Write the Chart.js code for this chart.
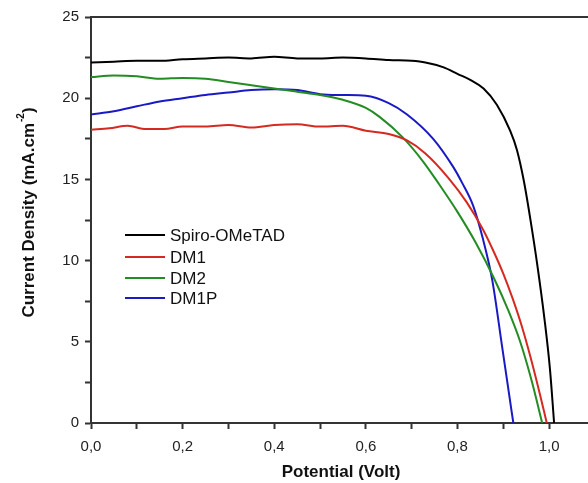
<!DOCTYPE html>
<html>
<head>
<meta charset="utf-8">
<script src="https://cdn.jsdelivr.net/npm/chart.js@4.4.1/dist/chart.umd.min.js"></script>
<style>
  html, body { margin: 0; padding: 0; background: #fff; }
  #wrap { width: 588px; height: 483px; position: relative; }
</style>
</head>
<body>
<div id="wrap"><canvas id="jv"></canvas></div>
<script>
// J-V curves (potential in Volt, current density in mA.cm-2)
const spiroV = [0, 0.05, 0.1, 0.15, 0.2, 0.25, 0.3, 0.35, 0.4, 0.45, 0.5, 0.55, 0.6, 0.65, 0.7, 0.73, 0.77, 0.8, 0.83, 0.857, 0.886, 0.915, 0.93, 0.945, 0.96, 0.975, 0.99, 1.002, 1.011];
const spiroJ = [22.2, 22.25, 22.3, 22.3, 22.4, 22.45, 22.5, 22.45, 22.55, 22.45, 22.45, 22.5, 22.45, 22.35, 22.3, 22.2, 21.9, 21.5, 21.1, 20.6, 19.6, 18.0, 16.8, 14.9, 12.4, 9.6, 6.4, 3.3, 0];

const dm1V = [0, 0.04, 0.08, 0.12, 0.16, 0.2, 0.25, 0.3, 0.35, 0.4, 0.45, 0.5, 0.55, 0.6, 0.65, 0.69, 0.73, 0.78, 0.82, 0.856, 0.88, 0.9, 0.92, 0.94, 0.96, 0.978, 0.995];
const dm1J = [18.05, 18.15, 18.3, 18.1, 18.1, 18.25, 18.25, 18.35, 18.2, 18.35, 18.4, 18.25, 18.3, 18.0, 17.8, 17.4, 16.6, 15.1, 13.6, 11.9, 10.5, 9.2, 7.7, 6.0, 4.0, 2.0, 0];

const dm2V = [0, 0.05, 0.1, 0.15, 0.2, 0.25, 0.3, 0.35, 0.4, 0.45, 0.5, 0.55, 0.6, 0.63, 0.68, 0.725, 0.76, 0.8, 0.84, 0.88, 0.91, 0.937, 0.962, 0.985];
const dm2J = [21.3, 21.4, 21.35, 21.2, 21.25, 21.2, 21.0, 20.8, 20.6, 20.4, 20.2, 19.9, 19.4, 18.85, 17.6, 16.1, 14.7, 13.0, 11.1, 8.9, 7.0, 5.0, 2.6, 0];

const dm1pV = [0, 0.05, 0.1, 0.15, 0.2, 0.25, 0.3, 0.35, 0.4, 0.45, 0.5, 0.55, 0.6, 0.65, 0.69, 0.747, 0.79, 0.81, 0.834, 0.855, 0.876, 0.897, 0.91, 0.922];
const dm1pJ = [19.0, 19.2, 19.5, 19.8, 20.0, 20.2, 20.35, 20.5, 20.55, 20.5, 20.25, 20.2, 20.15, 19.7, 19.0, 17.5, 15.8, 14.8, 13.4, 11.4, 8.8, 4.8, 2.3, 0];

const seriesNames = ['Spiro-OMeTAD', 'DM1', 'DM2', 'DM1P'];
const seriesColors = ['#000000', '#d42a22', '#238c23', '#1a1ac4'];

const xTicks = [0, 0.1, 0.2, 0.3, 0.4, 0.5, 0.6, 0.7, 0.8, 0.9, 1.0];
const yTicks = [0, 2.5, 5, 7.5, 10, 12.5, 15, 17.5, 20, 22.5, 25];

const toPts = (vs, js) => vs.map((v, i) => ({ x: v, y: js[i] }));
const allPts = [toPts(spiroV, spiroJ), toPts(dm1V, dm1J), toPts(dm2V, dm2J), toPts(dm1pV, dm1pJ)];

const axisCol = '#333333';
const tickFont = { family: 'Liberation Sans, Arial, sans-serif', size: 15 };

// titles, legend and the top frame line
const decor = {
  id: 'decor',
  afterDraw(chart) {
    const ctx = chart.ctx;
    const a = chart.chartArea;
    ctx.save();
    ctx.strokeStyle = axisCol;
    ctx.lineWidth = 2;
    ctx.beginPath();
    ctx.moveTo(a.left, a.top);
    ctx.lineTo(a.right, a.top);
    ctx.stroke();

    // x title
    ctx.fillStyle = '#111';
    ctx.font = 'bold 17px "Liberation Sans", Arial, sans-serif';
    ctx.textAlign = 'center';
    ctx.textBaseline = 'middle';
    ctx.fillText('Potential (Volt)', 341, 472);

    // y title with superscript
    ctx.translate(29, 213);
    ctx.rotate(-Math.PI / 2);
    const main = 'Current Density (mA.cm';
    const sup = '-2';
    const tail = ')';
    ctx.font = 'bold 17px "Liberation Sans", Arial, sans-serif';
    const wMain = ctx.measureText(main).width;
    const wTail = ctx.measureText(tail).width;
    ctx.font = 'bold 10px "Liberation Sans", Arial, sans-serif';
    const wSup = ctx.measureText(sup).width;
    let x0 = -(wMain + wSup + wTail) / 2;
    ctx.textAlign = 'left';
    ctx.font = 'bold 17px "Liberation Sans", Arial, sans-serif';
    ctx.fillText(main, x0, 0);
    ctx.font = 'bold 10px "Liberation Sans", Arial, sans-serif';
    ctx.fillText(sup, x0 + wMain + 1, -8);
    ctx.font = 'bold 17px "Liberation Sans", Arial, sans-serif';
    ctx.fillText(tail, x0 + wMain + wSup + 1, 0);
    ctx.setTransform(1, 0, 0, 1, 0, 0);

    // legend
    ctx.font = '17px "Liberation Sans", Arial, sans-serif';
    ctx.textAlign = 'left';
    ctx.textBaseline = 'middle';
    const rows = [235, 257, 278, 298];
    seriesNames.forEach((n, i) => {
      ctx.strokeStyle = seriesColors[i];
      ctx.lineWidth = 2;
      ctx.beginPath();
      ctx.moveTo(125, rows[i]);
      ctx.lineTo(165, rows[i]);
      ctx.stroke();
      ctx.fillStyle = '#111';
      ctx.fillText(n, 170, rows[i] + 1);
    });
    ctx.restore();
  }
};

new Chart(document.getElementById('jv'), {
  type: 'line',
  data: {
    datasets: seriesNames.map((n, i) => ({
      label: n,
      data: allPts[i],
      borderColor: seriesColors[i],
      borderWidth: 2,
      pointRadius: 0,
      fill: false,
      cubicInterpolationMode: 'monotone'
    }))
  },
  options: {
    responsive: true,
    maintainAspectRatio: false,
    animation: false,
    layout: { padding: { top: 17, right: 0, left: 0, bottom: 0 } },
    plugins: { legend: { display: false }, tooltip: { enabled: false } },
    scales: {
      x: {
        type: 'linear',
        min: 0,
        max: 1.085,
        afterFit: s => { s.height = 60; },
        afterBuildTicks: s => { s.ticks = xTicks.map(v => ({ value: v })); },
        grid: { drawOnChartArea: false, tickLength: 6, tickColor: axisCol, tickWidth: 2 },
        border: { color: axisCol, width: 2 },
        ticks: {
          autoSkip: false,
          maxRotation: 0,
          padding: 9,
          color: '#222',
          font: tickFont,
          callback: v => Math.round(v * 10) % 2 === 0 ? v.toFixed(1).replace('.', ',') : ''
        }
      },
      y: {
        type: 'linear',
        min: 0,
        max: 25,
        afterFit: s => { s.width = 91; },
        afterBuildTicks: s => { s.ticks = yTicks.map(v => ({ value: v })); },
        grid: { drawOnChartArea: false, tickLength: 6, tickColor: axisCol, tickWidth: 2 },
        border: { color: axisCol, width: 2 },
        ticks: {
          autoSkip: false,
          padding: 6,
          color: '#222',
          font: tickFont,
          callback: v => v % 5 === 0 ? String(v) : ''
        }
      }
    }
  },
  plugins: [decor]
});
</script>
</body>
</html>
